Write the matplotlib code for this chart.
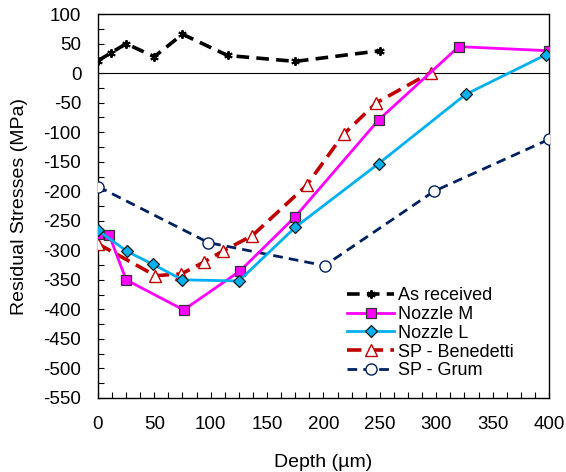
import matplotlib
matplotlib.use("Agg")
import matplotlib.pyplot as plt
from matplotlib.ticker import MultipleLocator

plt.rcParams["font.family"] = ["Liberation Sans", "DejaVu Sans"]
plt.rcParams["axes.unicode_minus"] = False

# ── Data ─────────────────────────────────────────────────────────────────────
asrec_x = [0, 12, 25, 50, 75, 115, 175, 250]
asrec_y = [21, 35, 50, 28, 66, 30, 20, 38]

nozm_x = [0, 10, 25, 76, 126, 175, 249, 320, 400]
nozm_y = [-272, -274, -350, -401, -335, -243, -79, 45, 38]

nozl_x = [0, 26, 49, 75, 125, 175, 249, 326, 397]
nozl_y = [-266, -302, -324, -350, -352, -261, -153, -36, 31]

bene_x = [0, 51, 74, 94, 111, 137, 185, 218, 247, 295]
bene_y = [-289, -343, -340, -320, -301, -275, -190, -103, -50, 1]

grum_x = [0, 98, 201, 298, 400]
grum_y = [-192, -287, -326, -200, -112]

fig = plt.figure(figsize=(5.66, 4.72), dpi=100)
ax = fig.add_axes([0.173, 0.157, 0.797, 0.813])

ax.axhline(0, color="black", linewidth=0.8, zorder=1)

ax.plot(asrec_x, asrec_y, color="black", linewidth=2.6, dashes=(3.5, 2),
        marker=(6, 2, 0), markersize=6, markeredgewidth=1.4,
        label="As received", zorder=3)
ax.plot(nozm_x, nozm_y, color="#FF00FF", linewidth=2,
        marker="s", markersize=6.5, markerfacecolor="#FF00FF",
        markeredgecolor="#333333", markeredgewidth=0.9,
        label="Nozzle M", zorder=4)
ax.plot(nozl_x, nozl_y, color="#00B0F0", linewidth=2,
        marker="D", markersize=6, markerfacecolor="#00B0F0",
        markeredgecolor="#1a1a1a", markeredgewidth=0.9,
        label="Nozzle L", zorder=5)
ax.plot(bene_x, bene_y, color="#C00000", linewidth=2.6, dashes=(4, 2),
        marker="^", markersize=8, markerfacecolor="white",
        markeredgecolor="#C00000", markeredgewidth=1,
        label="SP - Benedetti", zorder=3)
ax.plot(grum_x, grum_y, color="#002060", linewidth=2, dashes=(3.5, 2.2),
        marker="o", markersize=8, markerfacecolor="white",
        markeredgecolor="#002060", markeredgewidth=1,
        label="SP - Grum", zorder=3)

ax.set_xlim(0, 400)
ax.set_ylim(-550, 100)
ax.xaxis.set_major_locator(MultipleLocator(50))
ax.xaxis.set_minor_locator(MultipleLocator(12.5))
ax.yaxis.set_major_locator(MultipleLocator(50))
ax.yaxis.set_minor_locator(MultipleLocator(25))
ax.tick_params(which="both", direction="in", length=4, width=0.8,
               labelsize=13.5, top=False, right=False)
ax.tick_params(axis="x", pad=13)
ax.tick_params(axis="y", pad=12)

for s in ax.spines.values():
    s.set_linewidth(1)

ax.set_xlabel("Depth (µm)", fontsize=14, labelpad=15)
ax.set_ylabel("Residual Stresses (MPa)", fontsize=14, labelpad=11)

ax.legend(loc="lower right", bbox_to_anchor=(0.945, 0.02), frameon=False,
          fontsize=13, handlelength=2.6, handletextpad=0.2,
          labelspacing=0.1, borderaxespad=0.2)

fig.savefig("out.png", dpi=100, facecolor="white")
